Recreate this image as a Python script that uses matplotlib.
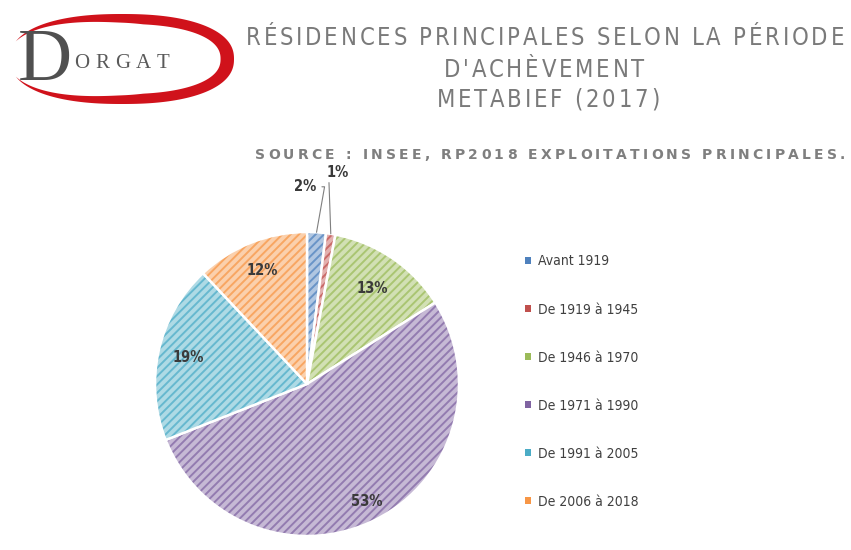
import numpy as np
import matplotlib
matplotlib.use("Agg")
import matplotlib.pyplot as plt
import matplotlib.patches as patches
from matplotlib.colors import to_rgba
from matplotlib.font_manager import FontProperties

# data
periods = ["Avant 1919", "De 1919 à 1945", "De 1946 à 1970",
           "De 1971 à 1990", "De 1991 à 2005", "De 2006 à 2018"]
shares = [2, 1, 13, 53, 19, 12]
colors = ["#4F81BD", "#C0504D", "#9BBB59", "#8064A2", "#4BACC6", "#F79646"]
title_lines = ["RÉSIDENCES PRINCIPALES SELON LA PÉRIODE", "D'ACHÈVEMENT", "METABIEF (2017)"]
source_text = "SOURCE : INSEE, RP2018 EXPLOITATIONS PRINCIPALES."

W, H = 851, 550
plt.rcParams['hatch.linewidth'] = 1.4
fig = plt.figure(figsize=(W / 100, H / 100), dpi=100)
fig.patch.set_facecolor("white")

# overlay axes in pixel coords for logo and titles
ov = fig.add_axes([0, 0, 1, 1])
ov.set_xlim(0, W)
ov.set_ylim(H, 0)
ov.axis("off")
renderer = fig.canvas.get_renderer()


def spaced_text(s, xc, y, size, total_w=None, spacing=0, family="DejaVu Sans",
                weight="normal", stretch="condensed", color="#808080"):
    fp = FontProperties(family=family, size=size, weight=weight, stretch=stretch)
    ws = [renderer.get_text_width_height_descent(ch, fp, ismath=False)[0] for ch in s]
    if total_w is not None:
        spacing = (total_w - sum(ws)) / (len(s) - 1)
    full = sum(ws) + spacing * (len(s) - 1)
    x = xc - full / 2
    for ch, w in zip(s, ws):
        ov.text(x, y, ch, fontproperties=fp, color=color, ha="left", va="center")
        x += w + spacing
    return spacing


# logo: red swoosh (crescent, open on the left)
t = np.deg2rad(np.linspace(162, -160, 300))
n = 2.3
ex = np.sign(np.cos(t)) * np.abs(np.cos(t)) ** (2 / n)
ey = np.sign(np.sin(t)) * np.abs(np.sin(t)) ** (2 / n)
lcx, lcy, la, lb = 122, 59, 112, 45
ox, oy = lcx + la * ex, lcy - lb * ey
taper = np.clip((160 - np.abs(np.rad2deg(t))) / 80, 0, 1)
ix = lcx + la * ex * (1 - 0.12 * taper)
iy = lcy - lb * ey * (1 - 0.22 * taper)
ov.fill(np.r_[ox, ix[::-1]], np.r_[oy, iy[::-1]], color="#D0121B", lw=0)
ov.text(18, 62, "D", family="Liberation Serif", size=54, color="#505050", va="center")
spaced_text("ORGAT", 122, 63, 15, total_w=95, family="Liberation Serif",
            stretch="normal", color="#5a5a5a")

# titles
sp = spaced_text(title_lines[0], 545, 38, 17, total_w=598, color="#7a7a7a")
spaced_text(title_lines[1], 544, 70, 17, spacing=sp, color="#7a7a7a")
spaced_text(title_lines[2], 548, 100, 17, spacing=sp, color="#7a7a7a")
spaced_text(source_text, 550, 155, 10, total_w=590, color="#7f7f7f", weight="bold",
            stretch="normal")

# pie
R = 152
cx, cy = 307, 384
lim = 1.1
size = 2 * lim * R
ax = fig.add_axes([(cx - size / 2) / W, (H - cy - size / 2) / H, size / W, size / H])
wedges, _ = ax.pie(shares, startangle=90, counterclock=False, radius=1,
                   wedgeprops=dict(linewidth=1.8, edgecolor="white"))
for w, c in zip(wedges, colors):
    base = np.array(to_rgba(c))
    light = base * 0.45 + np.array([1, 1, 1, 1]) * 0.55
    w.set_facecolor(light)
    w.set_hatch("////")
    w._hatch_color = tuple(base * 0.85 + np.array([1, 1, 1, 1]) * 0.15)
ax.set_xlim(-lim, lim)
ax.set_ylim(-lim, lim)
ax.set_aspect("equal")
ax.axis("off")

lab_font = dict(fontsize=10.5, color="#3a3a3a", family="DejaVu Sans",
                fontstretch="condensed", fontweight="bold")
label_dist = [1.3, 1.36, 0.76, 0.87, 0.8, 0.8]
for w, v, d in zip(wedges, shares, label_dist):
    ang = np.deg2rad((w.theta1 + w.theta2) / 2)
    x, y = d * np.cos(ang), d * np.sin(ang)
    if d > 1:
        px, py = np.cos(ang), np.sin(ang)
        if v == 1:
            ax.annotate(f"{v}%", xy=(px, py), xytext=(px - 0.03, y), ha="left", va="bottom",
                        arrowprops=dict(arrowstyle="-", color="#7f7f7f", lw=0.8,
                                        shrinkA=0, shrinkB=0, relpos=(0.12, 0.0)),
                        **lab_font)
        else:
            ax.annotate(f"{v}%", xy=(px, py), xytext=(x - 0.02, y), ha="right", va="center",
                        arrowprops=dict(arrowstyle="-", color="#7f7f7f", lw=0.8,
                                        shrinkA=2, shrinkB=0,
                                        connectionstyle="angle,angleA=0,angleB=80,rad=0"),
                        **lab_font)
    else:
        ax.text(x, y, f"{v}%", ha="center", va="center", **lab_font)

# legend
handles = [patches.Patch(facecolor=c, edgecolor="none") for c in colors]
leg = fig.legend(handles, periods, loc="upper left", bbox_to_anchor=(512 / W, 1 - 242 / H),
                 frameon=False, handlelength=0.45, handleheight=0.45,
                 handletextpad=0.5, labelspacing=2.45, labelcolor="#404040",
                 prop=FontProperties(family="DejaVu Sans", stretch="condensed", size=10))

fig.savefig("out.png", dpi=100)
